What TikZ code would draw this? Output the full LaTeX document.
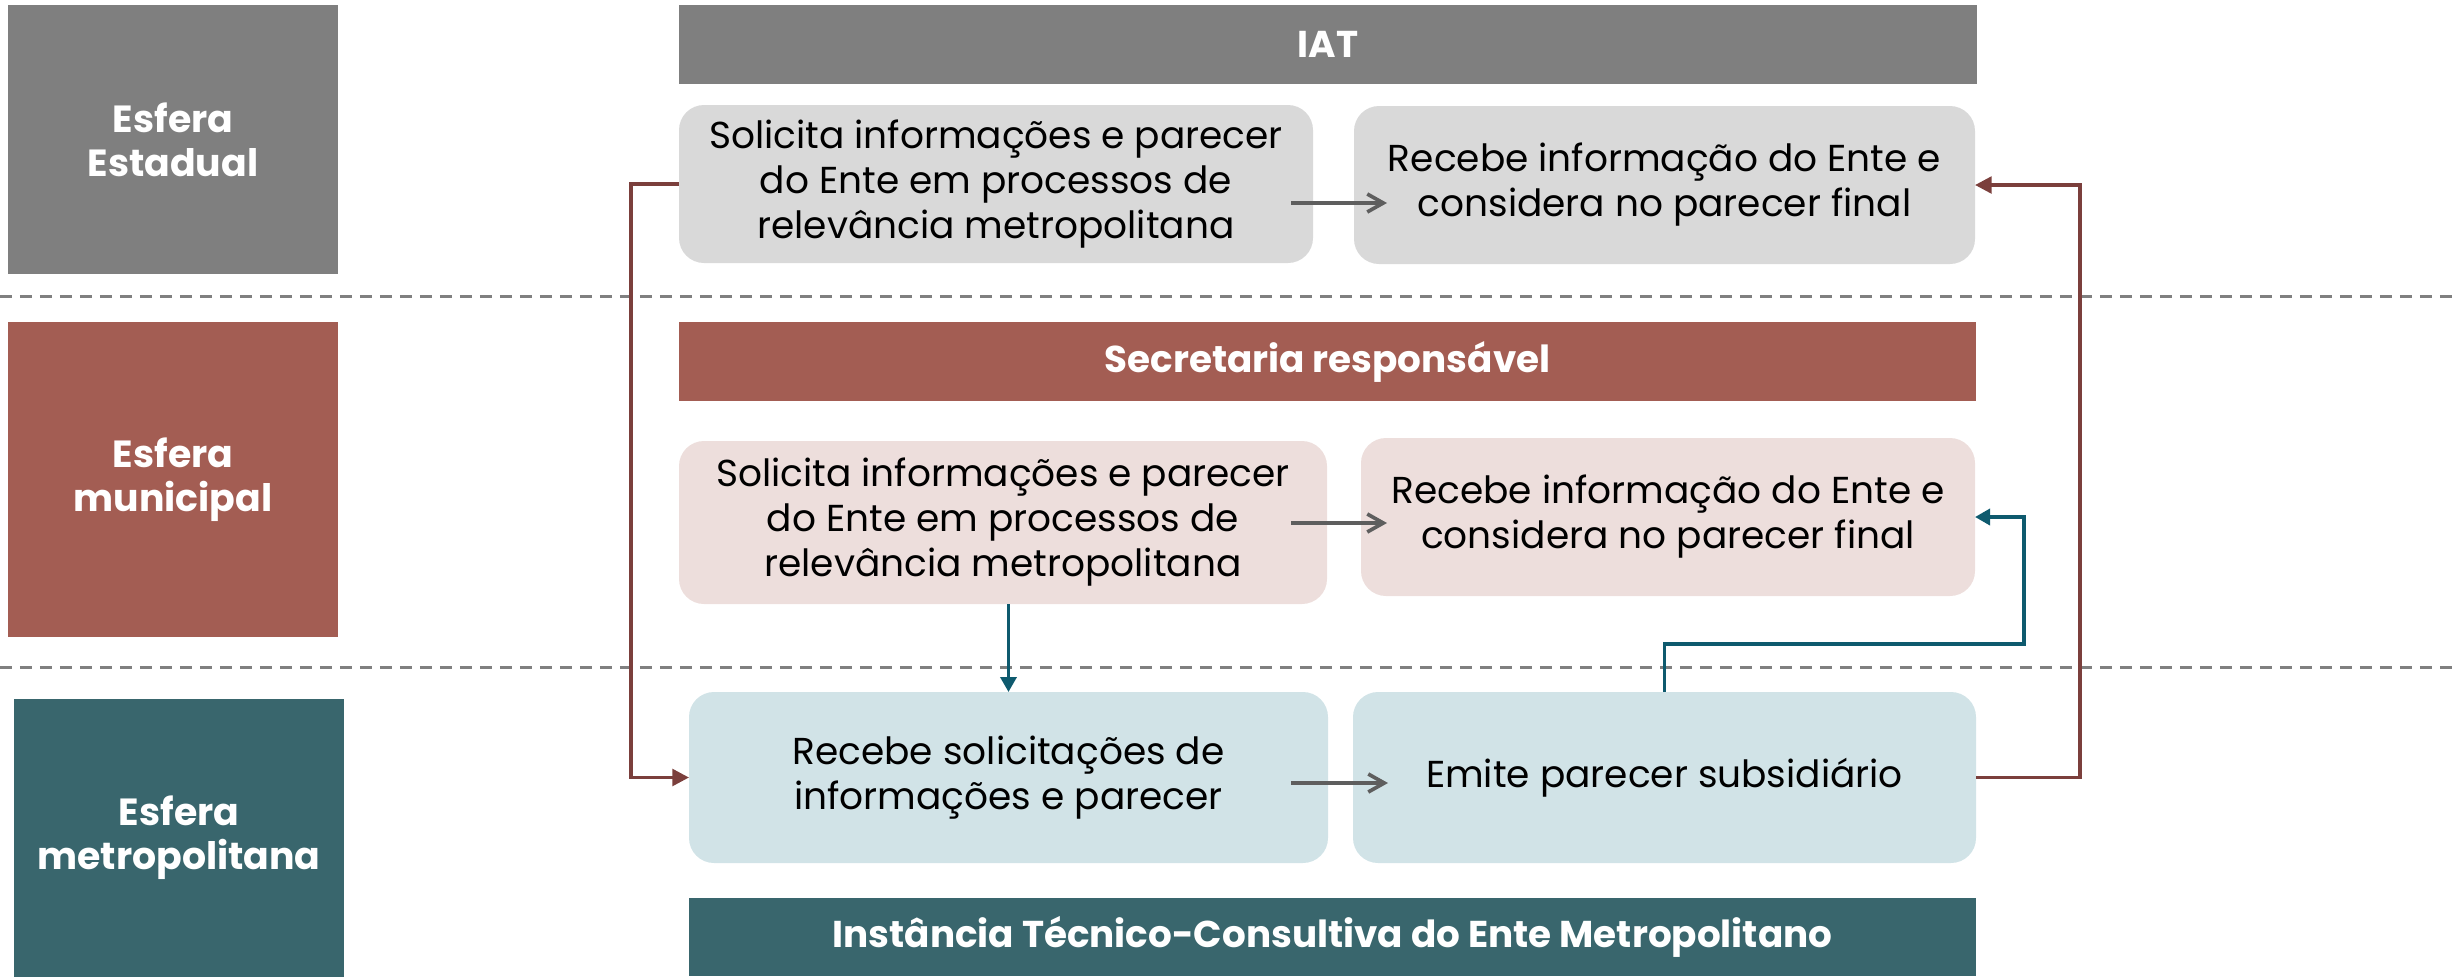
\documentclass[tikz,border=0pt]{standalone}
\usepackage{fontspec}
\setmainfont{Poppins}
\usetikzlibrary{arrows.meta,calc}
\definecolor{hdrgray}{HTML}{7F7F7F}
\definecolor{boxgray}{HTML}{D9D9D9}
\definecolor{hdrred}{HTML}{A35D53}
\definecolor{boxpink}{HTML}{EDDEDC}
\definecolor{hdrteal}{HTML}{39666D}
\definecolor{boxteal}{HTML}{D1E3E7}
\definecolor{connred}{HTML}{7B3F3C}
\definecolor{connteal}{HTML}{0E5A6E}
\definecolor{connarrow}{HTML}{5E5E5E}
\definecolor{sepgray}{HTML}{808080}
\newcommand{\pxu}{0.3pt}
\begin{document}
\begin{tikzpicture}[x=0.3pt,y=-0.3pt,
  procbox/.style={rounded corners=7.5pt, inner sep=0pt, outer sep=0pt, align=center,
    font=\fontsize{11.25}{13.5}\selectfont, text=black},
  hdrbar/.style={inner sep=0pt, outer sep=0pt, text=white, font=\bfseries\fontsize{11.2}{13}\selectfont},
  esfbox/.style={inner sep=0pt, outer sep=0pt, text=white, align=center,
    font=\bfseries\fontsize{11.35}{13.1}\selectfont},
  sepline/.style={sepgray, line width=0.9pt, dash pattern=on 3.6pt off 2.4pt},
  garrow/.style={connarrow, line width=1.1pt, -{Straight Barb[length=4.8pt,width=5.4pt]}},
  rarrow/.style={connred, line width=1.05pt, -{Triangle[length=5pt,width=5pt]}},
  tarrow/.style={connteal, line width=1.05pt, -{Triangle[length=4.5pt,width=4.8pt]}}
]
\useasboundingbox (0,0) rectangle (2453,976);

% separators
\coordinate (s1l) at (0,296); \coordinate (s1r) at (2453,296);
\coordinate (s2l) at (0,667); \coordinate (s2r) at (2453,667);
\draw[sepline] (s1l) -- (s1r);
\draw[sepline] (s2l) -- (s2r);

% sphere labels
\node[esfbox, fill=hdrgray, minimum width=330*\pxu, minimum height=269*\pxu] (e1) at (173,139.5) {Esfera\\Estadual};
\node[esfbox, fill=hdrred, minimum width=330*\pxu, minimum height=315*\pxu] (e2) at (173,479.5) {Esfera\\municipal};
\node[esfbox, fill=hdrteal, minimum width=330*\pxu, minimum height=279*\pxu] (e3) at (179,838) {Esfera\\metropolitana};

% header bars
\node[hdrbar, fill=hdrgray, minimum width=1298*\pxu, minimum height=79*\pxu] (h1) at (1328,44.5) {IAT};
\node[hdrbar, fill=hdrred, minimum width=1297*\pxu, minimum height=79*\pxu] (h2) at (1327.5,361.5) {Secretaria responsável};
\node[hdrbar, fill=hdrteal, minimum width=1287*\pxu, minimum height=78*\pxu] (h3) at (1332.5,937) {Instância Técnico-Consultiva do Ente Metropolitano};

% process boxes
\node[procbox, fill=boxgray, minimum width=634*\pxu, minimum height=158*\pxu] (b1) at (996,184)
  {Solicita informações e parecer\\do Ente em processos de\\relevância metropolitana};
\node[procbox, fill=boxgray, minimum width=621*\pxu, minimum height=158*\pxu] (b2) at (1664.5,185)
  {Recebe informação do Ente e\\considera no parecer final};
\node[procbox, fill=boxpink, minimum width=648*\pxu, minimum height=163*\pxu] (b3) at (1003,522.5)
  {Solicita informações e parecer\\do Ente em processos de\\relevância metropolitana};
\node[procbox, fill=boxpink, minimum width=614*\pxu, minimum height=158*\pxu] (b4) at (1668,517)
  {Recebe informação do Ente e\\considera no parecer final};
\node[procbox, fill=boxteal, minimum width=639*\pxu, minimum height=171*\pxu] (b5) at (1008.5,777.5)
  {Recebe solicitações de\\informações e parecer};
\node[procbox, fill=boxteal, minimum width=623*\pxu, minimum height=171*\pxu] (b6) at (1664.5,777.5)
  {Emite parecer subsidiário};

% horizontal gray arrows
\draw[garrow] ($(b1.east)+(-22,19)$) -- ($(b2.west)+(33,18)$);
\draw[garrow] ($(b3.east)+(-36,0.5)$) -- ($(b4.west)+(26,6)$);
\draw[garrow] ($(b5.east)+(-37,5.5)$) -- ($(b6.west)+(35,5.5)$);

% red connectors
\coordinate (r1) at (631,184);
\draw[rarrow] (b1.west) -- (r1) |- (b5.west);
\coordinate (r2) at (2080,777.5);
\draw[rarrow] (b6.east) -- (r2) |- (b2.east);

% teal connectors
\draw[tarrow] (b3.south -| b5.north) -- (b5.north);
\coordinate (t1) at (2024,644);
\draw[tarrow] (b6.north) |- (t1) |- (b4.east);
\end{tikzpicture}
\end{document}
